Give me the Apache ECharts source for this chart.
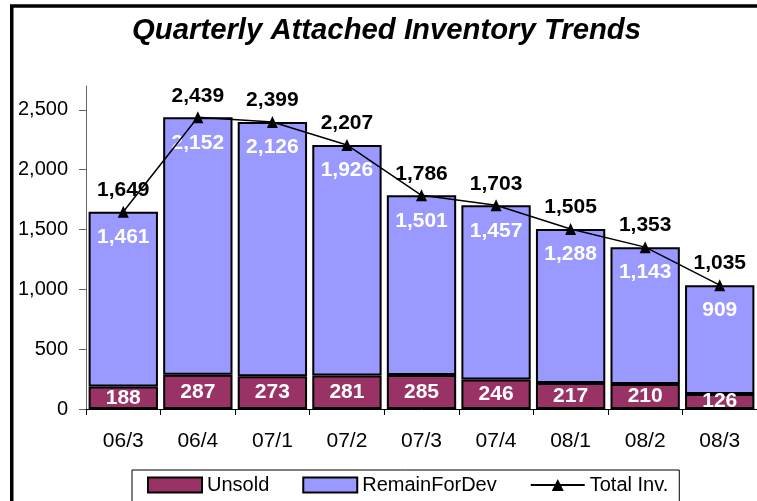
<!DOCTYPE html>
<html>
<head>
<meta charset="utf-8">
<script src="https://cdn.jsdelivr.net/npm/echarts@6/dist/echarts.min.js"></script>
<style>
  html, body { margin: 0; padding: 0; background: #fff; }
  #main { width: 757px; height: 501px; }
</style>
</head>
<body>
<div id="main"></div>
<script>
// data
var quarters = ['06/3', '06/4', '07/1', '07/2', '07/3', '07/4', '08/1', '08/2', '08/3'];
var unsold = [188, 287, 273, 281, 285, 246, 217, 210, 126];
var remainForDev = [1461, 2152, 2126, 1926, 1501, 1457, 1288, 1143, 909];
var totalInv = [1649, 2439, 2399, 2207, 1786, 1703, 1505, 1353, 1035];
var yTicks = [0, 500, 1000, 1500, 2000, 2500];

var font = 'Liberation Sans, Arial, sans-serif';

function fmt(v) {
    return Number(v).toLocaleString('en-US');
}

var myChart = echarts.init(document.getElementById('main'));

var option = {
    animation: false,
    backgroundColor: '#fff',
    title: {
        text: 'Quarterly Attached Inventory Trends',
        left: 132,
        top: 16,
        padding: 0,
        textStyle: {
            fontFamily: font,
            fontSize: 29.3,
            fontWeight: 'bold',
            fontStyle: 'italic',
            color: '#000'
        }
    },
    graphic: [{
        type: 'rect',
        shape: { x: 11.75, y: 6, width: 900, height: 700 },
        style: { fill: null, stroke: '#000', lineWidth: 3.5 },
        silent: true
    }],
    legend: {
        left: 132,
        top: 470,
        padding: [5, 11, 30, 15],
        borderColor: '#000',
        borderWidth: 1,
        itemWidth: 54,
        itemHeight: 15,
        itemGap: 33,
        textStyle: { fontFamily: font, fontSize: 20, color: '#000' },
        data: [
            { name: 'Unsold', icon: 'rect' },
            { name: 'RemainForDev', icon: 'rect' },
            { name: 'Total Inv.' }
        ]
    },
    grid: {
        left: 86,
        right: -1,
        top: 86,
        bottom: 92
    },
    xAxis: {
        type: 'category',
        data: quarters,
        axisLine: { lineStyle: { color: '#000', width: 1 } },
        axisTick: { show: true, length: 6, lineStyle: { color: '#000' } },
        axisLabel: {
            margin: 22,
            fontFamily: font,
            fontSize: 21,
            color: '#000'
        }
    },
    yAxis: {
        type: 'value',
        min: 0,
        max: 2700,
        interval: 500,
        splitLine: { show: false },
        axisLine: { show: true, lineStyle: { color: '#666', width: 1 } },
        axisTick: {
            show: true,
            length: 7,
            customValues: yTicks,
            lineStyle: { color: '#666' }
        },
        axisLabel: {
            margin: 18,
            customValues: yTicks,
            fontFamily: font,
            fontSize: 20,
            color: '#000',
            formatter: fmt
        }
    },
    series: [
        {
            name: 'Unsold',
            type: 'bar',
            stack: 'inv',
            barCategoryGap: '7%',
            data: unsold,
            itemStyle: { color: '#993366', borderColor: '#000', borderWidth: 2 },
            label: {
                show: true,
                position: 'inside',
                fontFamily: font,
                fontSize: 21,
                fontWeight: 'bold',
                color: '#fff',
                formatter: function (p) { return fmt(p.value); }
            }
        },
        {
            name: 'RemainForDev',
            type: 'bar',
            stack: 'inv',
            barCategoryGap: '7%',
            data: remainForDev,
            itemStyle: { color: '#9999FF', borderColor: '#000', borderWidth: 2 },
            label: {
                show: true,
                position: 'insideTop',
                distance: 15,
                fontFamily: font,
                fontSize: 21,
                fontWeight: 'bold',
                color: '#fff',
                formatter: function (p) { return fmt(p.value); }
            }
        },
        {
            name: 'Total Inv.',
            type: 'line',
            data: totalInv,
            z: 5,
            symbol: 'triangle',
            symbolSize: [11, 12],
            lineStyle: { color: '#000', width: 1.5 },
            itemStyle: { color: '#000' },
            label: {
                show: true,
                position: 'top',
                distance: 5,
                fontFamily: font,
                fontSize: 21,
                fontWeight: 'bold',
                color: '#000',
                formatter: function (p) { return fmt(p.value); }
            }
        }
    ]
};

myChart.setOption(option);
</script>
</body>
</html>
